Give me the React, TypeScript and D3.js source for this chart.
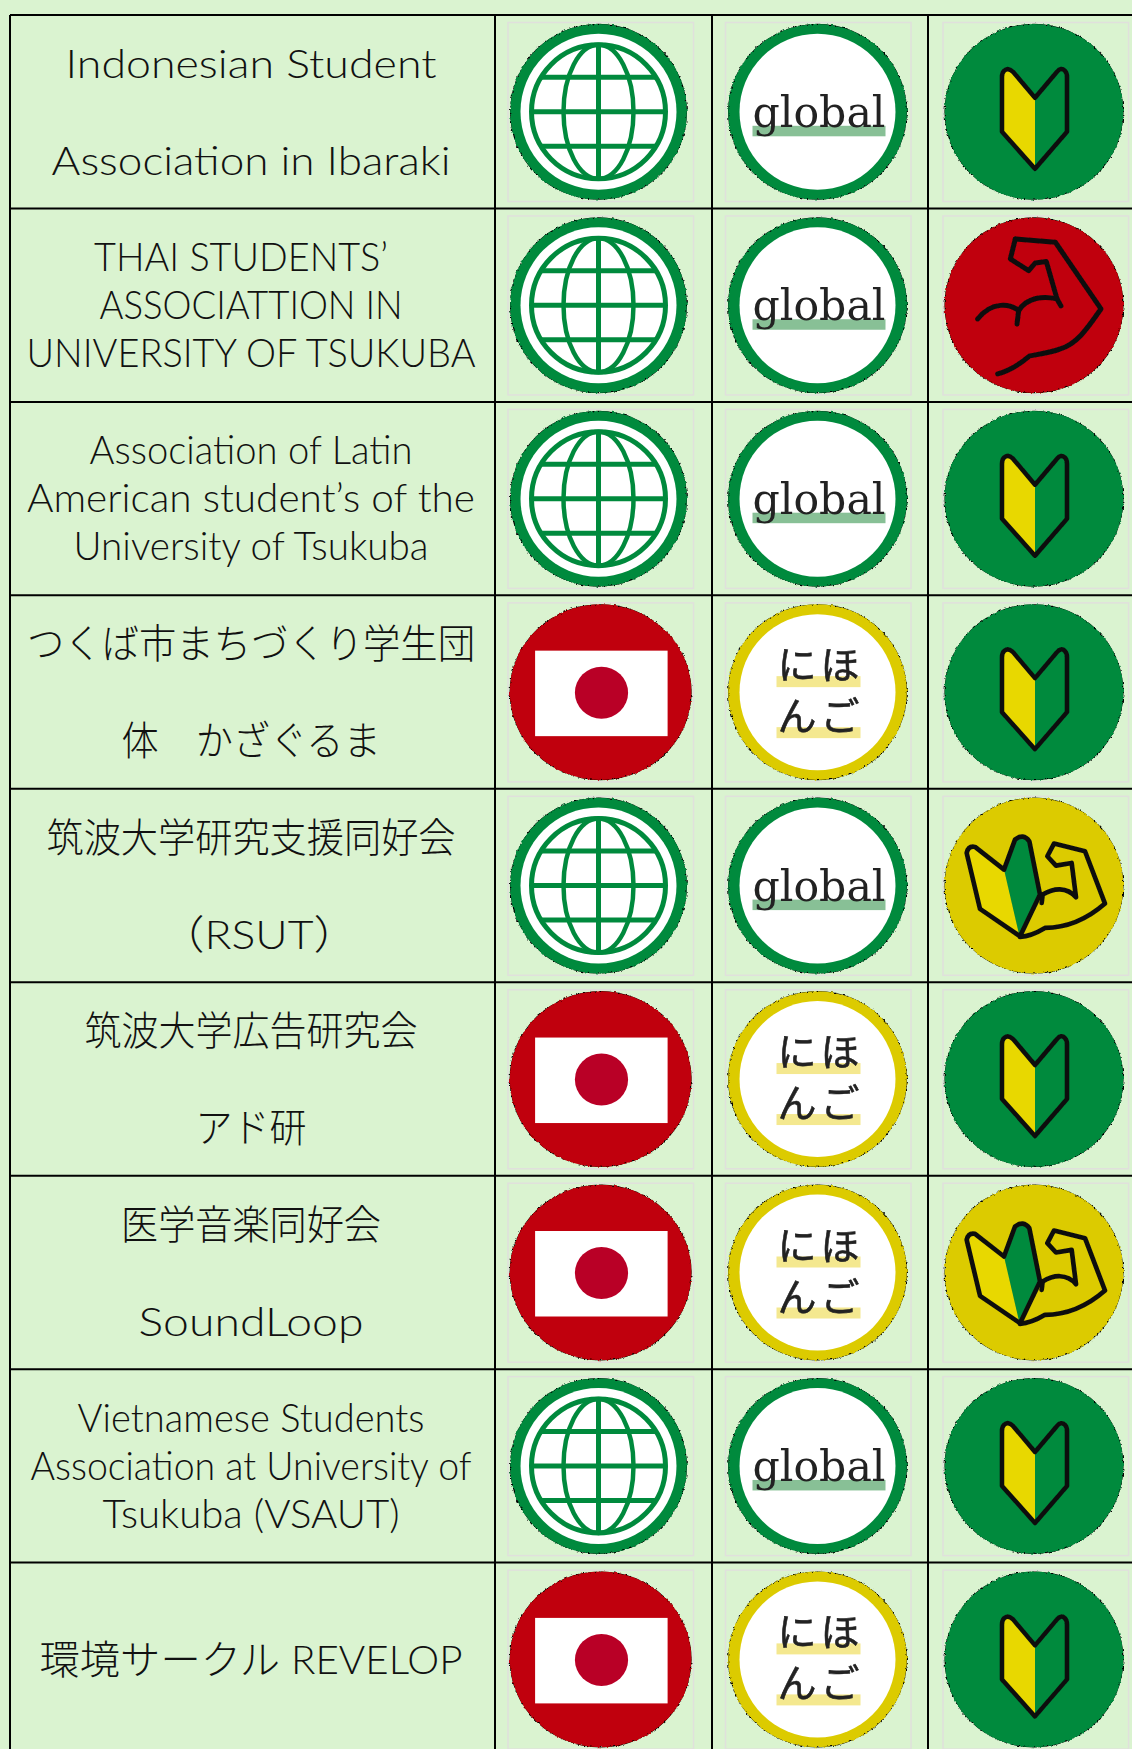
import React from "react";
import * as d3 from "d3";

const W = 1132, H = 1749;

// ---------- data ----------
const clubNames: string[][] = [
  ["Indonesian Student", "Association in Ibaraki"],
  ["THAI STUDENTS’", "ASSOCIATTION IN", "UNIVERSITY OF TSUKUBA"],
  ["Association of Latin", "American student’s of the", "University of Tsukuba"],
  ["つくば市まちづくり学生団", "体　かざぐるま"],
  ["筑波大学研究支援同好会", "（RSUT）"],
  ["筑波大学広告研究会", "アド研"],
  ["医学音楽同好会", "SoundLoop"],
  ["Vietnamese Students", "Association at University of", "Tsukuba (VSAUT)"],
  ["環境サークル REVELOP"],
];
const community = ["world", "world", "world", "japan", "world", "japan", "japan", "world", "japan"];
const language = ["global", "global", "global", "nihongo", "global", "nihongo", "nihongo", "global", "nihongo"];
const level = ["beginner", "strong", "beginner", "beginner", "both", "beginner", "both", "beginner", "beginner"];

// ---------- layout (measured, separate from the data) ----------
const lineWidths: Record<string, number> = {
  "Indonesian Student": 371, "Association in Ibaraki": 399,
  "THAI STUDENTS’": 294, "ASSOCIATTION IN": 303, "UNIVERSITY OF TSUKUBA": 449,
  "Association of Latin": 323, "American student’s of the": 448, "University of Tsukuba": 355,
  "つくば市まちづくり学生団": 448, "体　かざぐるま": 259,
  "筑波大学研究支援同好会": 409, "（RSUT）": 198,
  "筑波大学広告研究会": 333, "アド研": 111,
  "医学音楽同好会": 260, "SoundLoop": 225,
  "Vietnamese Students": 347, "Association at University of": 441, "Tsukuba (VSAUT)": 297,
  "環境サークル REVELOP": 423,
};
const lineShift: Record<string, number> = { "THAI STUDENTS’": -10, "（RSUT）": 8 };
const baselineOffsets: Record<number, number[]> = { 1: [111], 2: [63, 160], 3: [62.5, 110.5, 158.5] };

const BG = "#daf3d0", GREEN = "#058a3e", RED = "#c00008", YELLOW = "#dccb00", MARK = "#e8d800";
const rowY = d3.scaleLinear().domain([0, 9]).range([15, 15 + 193.45 * 9]);
const colX = [10, 495, 712, 928];
const FONT = "Lato, 'Noto Sans CJK JP', sans-serif";

// jagged disc with dark specks along its edge
const Disc = ({ rx = 88.5, ry = 88, fill }: { rx?: number; ry?: number; fill: string }) => (
  <g>
    <ellipse rx={rx} ry={ry} fill="#000" filter="url(#rough)" />
    <ellipse rx={rx - 0.2} ry={ry - 0.2} fill={fill} filter="url(#rough2)" />
  </g>
);

const latOffsets = [-34.5, 0, 34.5];
const GLOBE = 67;
const World = () => (
  <g>
    <Disc fill={GREEN} />
    <g filter="url(#soft)">
      <circle r={78} fill="#fff" />
      <circle r={GLOBE} fill="none" stroke={GREEN} strokeWidth={5} />
      <ellipse rx={35} ry={GLOBE} fill="none" stroke={GREEN} strokeWidth={4.5} />
      <line x1={0} x2={0} y1={-GLOBE} y2={GLOBE} stroke={GREEN} strokeWidth={5} />
      {latOffsets.map((d) => {
        const half = Math.sqrt(GLOBE * GLOBE - d * d);
        return <line key={d} x1={-half} x2={half} y1={d} y2={d} stroke={GREEN} strokeWidth={5} />;
      })}
    </g>
  </g>
);

const Japan = () => (
  <g>
    <Disc rx={91} ry={88} fill={RED} />
    <g filter="url(#soft)">
      <rect x={-65.5} y={-41.5} width={132.5} height={85.5} fill="#fff" />
      <ellipse cx={0.9} cy={0.5} rx={26.6} ry={26} fill="#b90028" />
    </g>
  </g>
);

const Global = () => (
  <g>
    <Disc rx={89.5} ry={88} fill={GREEN} />
    <g filter="url(#soft)">
      <circle r={78} fill="#fff" />
      <rect x={-65} y={14} width={133} height={10.5} fill="#88c096" />
      <text x={1.5} y={15} textAnchor="middle" textLength={133} lengthAdjust="spacingAndGlyphs"
        fontFamily="'DejaVu Serif', serif" fontSize={43} fill="#222">global</text>
    </g>
  </g>
);

const Nihongo = () => (
  <g>
    <Disc rx={89.5} ry={88} fill={YELLOW} />
    <g filter="url(#soft)">
      <circle r={78} fill="#fff" />
      <rect x={-41} y={-16} width={84} height={11} fill="#f4e88f" />
      <rect x={-41} y={35} width={84} height={11} fill="#f4e88f" />
      <text x={1} y={-13} textAnchor="middle" textLength={82} lengthAdjust="spacing"
        fontFamily="'Noto Sans CJK JP'" fontSize={39} fill="#222" stroke="#222" strokeWidth={0.6}>にほ</text>
      <text x={1} y={38} textAnchor="middle" textLength={82} lengthAdjust="spacing"
        fontFamily="'Noto Sans CJK JP'" fontSize={39} fill="#222" stroke="#222" strokeWidth={0.6}>んご</text>
    </g>
  </g>
);

const Beginner = () => (
  <g>
    <Disc rx={89.5} ry={88} fill={GREEN} />
    <g filter="url(#soft)">
      <path d="M1,-14 L-21,-40 Q-26,-45 -30,-41 Q-32,-39 -32,-35 L-32,20 L1,57 Z" fill={MARK} />
      <path d="M1,-14 L-21,-40 Q-26,-45 -30,-41 Q-32,-39 -32,-35 L-32,20 L1,57 L33,20 L33,-35 Q33,-39 31,-41 Q27,-45 23,-40 Z"
        fill="none" stroke="#111" strokeWidth={4.5} strokeLinejoin="round" />
    </g>
  </g>
);

const Strong = () => (
  <g>
    <Disc rx={89.5} ry={88} fill={RED} />
    <g filter="url(#soft)" transform="scale(0.3333) translate(-341,-314)" fill="none" stroke="#111" strokeWidth={15} strokeLinecap="round" strokeLinejoin="round">
      <path d="M285,115 L405,125 L542,325 C500,385 470,430 420,445 C390,457 350,462 328,466 C300,490 270,510 232,520" />
      <path d="M285,115 L270,175 L325,210 L345,187 L378,183 L410,295 L422,316" />
      <path d="M410,295 C370,285 320,290 295,330 L290,370" />
      <path d="M295,330 C270,310 215,300 172,355" />
    </g>
  </g>
);

const Both = () => (
  <g>
    <Disc rx={89.5} ry={88} fill={YELLOW} />
    <g filter="url(#soft)" transform="scale(0.3333) translate(-312,-298)" fill="none" stroke="#111" strokeWidth={14} strokeLinecap="round" strokeLinejoin="round">
      <path d="M222,250 L135,182 Q115,178 110,200 L150,368 L268,448 Z" fill={MARK} stroke="none" />
      <path d="M222,250 L255,160 Q280,140 298,165 L330,325 L268,448 Z" fill={GREEN} stroke="none" />
      <path d="M222,250 L135,182 Q115,178 110,200 L150,368 L270,450 L330,325 L298,165 Q280,140 255,160 Z" />
      <path d="M335,350 L338,325 C370,305 410,300 438,333 L425,230 L378,238 L352,210 L372,172 L465,195 L525,352 C470,400 410,425 345,425 C320,440 300,450 270,452" />
    </g>
  </g>
);

const communityIcons: Record<string, React.FC> = { world: World, japan: Japan };
const languageIcons: Record<string, React.FC> = { global: Global, nihongo: Nihongo };
const levelIcons: Record<string, React.FC> = { beginner: Beginner, strong: Strong, both: Both };

const Frame = ({ x0, x1, y }: { x0: number; x1: number; y: number }) => (
  <rect x={x0} y={y + 7.5} width={x1 - x0} height={179} fill="none" stroke="#e0e0dc" strokeWidth={1.5} />
);

export default function App() {
  const cx = 251;
  return (
    <svg width={W} height={H} style={{ position: "fixed", left: 0, top: 0, display: "block" }}>
      <defs>
        <filter id="soft" x="-20%" y="-20%" width="140%" height="140%">
          <feGaussianBlur stdDeviation={0.55} />
        </filter>
        <filter id="rough" x="-10%" y="-10%" width="120%" height="120%">
          <feTurbulence type="fractalNoise" baseFrequency={0.35} numOctaves={2} seed={3} />
          <feDisplacementMap in="SourceGraphic" scale={3} xChannelSelector="R" yChannelSelector="G" />
        </filter>
        <filter id="rough2" x="-10%" y="-10%" width="120%" height="120%">
          <feTurbulence type="fractalNoise" baseFrequency={0.35} numOctaves={2} seed={8} />
          <feDisplacementMap in="SourceGraphic" scale={3} xChannelSelector="R" yChannelSelector="G" />
        </filter>
      </defs>
      <rect width={W} height={H} fill={BG} />
      {clubNames.map((lines, i) => {
        const y = rowY(i);
        const A = communityIcons[community[i]], B = languageIcons[language[i]], C = levelIcons[level[i]];
        return (
          <g key={i}>
            <Frame x0={508} x1={693.5} y={y} />
            <Frame x0={725.5} x1={911} y={y} />
            <Frame x0={943} x1={1128.5} y={y} />
            <g transform={`translate(${community[i] === "japan" ? 600.6 : 598.5},${y + 96.8})`}><A /></g>
            <g transform={`translate(817.5,${y + 96.8})`}><B /></g>
            <g transform={`translate(1034,${y + 96.8})`}><C /></g>
            {lines.map((t, j) => (
              <text key={t} x={cx + (lineShift[t] ?? 0)} y={y + baselineOffsets[lines.length][j]} textAnchor="middle"
                textLength={lineWidths[t]} lengthAdjust="spacingAndGlyphs"
                fontFamily={FONT} fontWeight={300} fontSize={40} fill="#111">{t}</text>
            ))}
          </g>
        );
      })}
      {d3.range(0, 10).map((i) => (
        <line key={i} x1={colX[0]} x2={W} y1={rowY(i)} y2={rowY(i)} stroke="#000" strokeWidth={2} />
      ))}
      {colX.map((x) => (
        <line key={x} x1={x} x2={x} y1={rowY(0)} y2={H} stroke="#000" strokeWidth={2} />
      ))}
    </svg>
  );
}
